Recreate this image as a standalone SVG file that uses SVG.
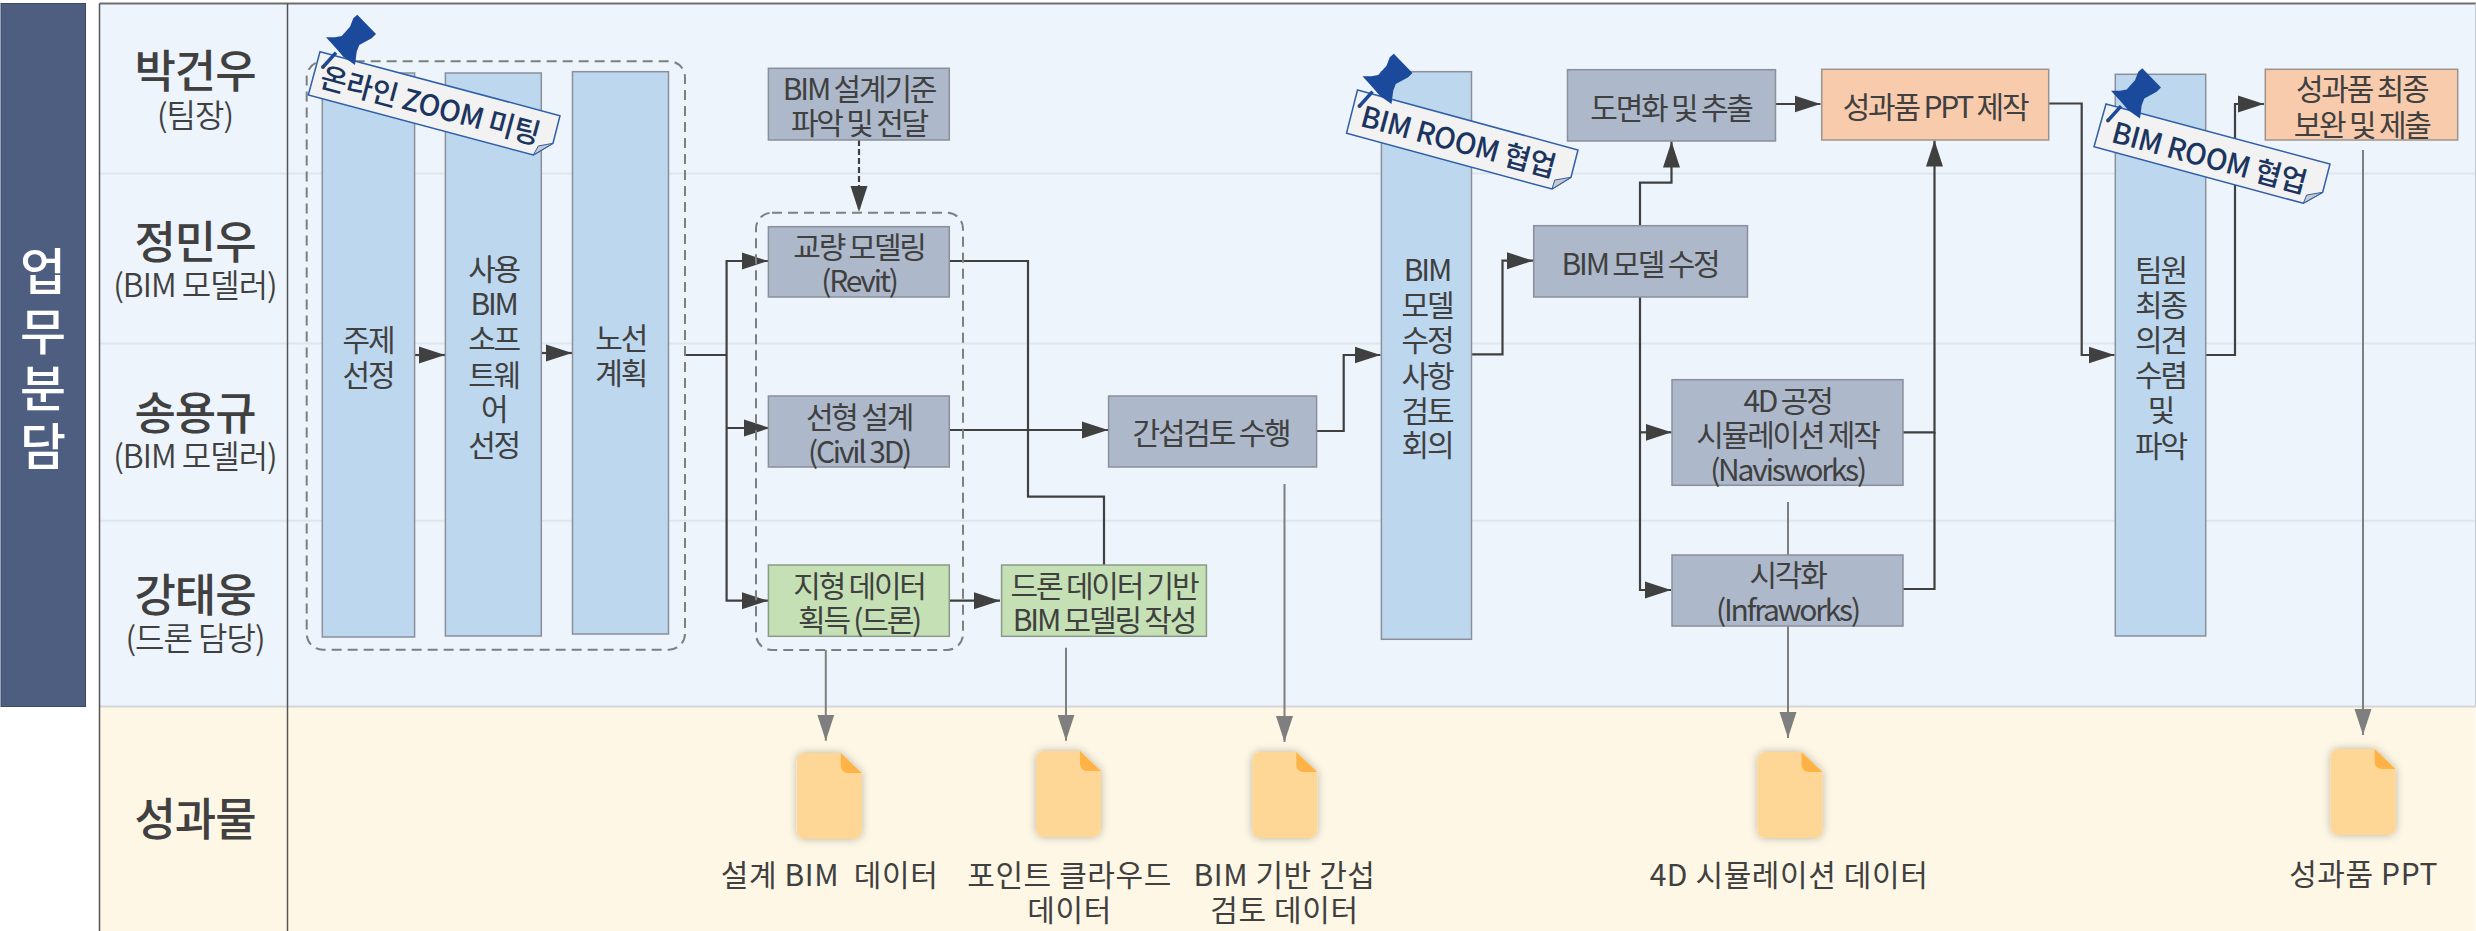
<svg xmlns="http://www.w3.org/2000/svg" xmlns:xlink="http://www.w3.org/1999/xlink" width="2476" height="931" viewBox="0 0 2476 931">
<style>
text{font-family:"Noto Sans CJK KR","Noto Sans",sans-serif;fill:#404040;text-anchor:middle;dominant-baseline:central}
.name{font-size:45px;font-weight:500;letter-spacing:-1px}
.sub{font-size:32px;letter-spacing:-1px;font-weight:350}
.t{font-size:30px;letter-spacing:-2.2px}
.out{font-size:30px;letter-spacing:.6px}
.title{font-size:50px;fill:#fff;font-weight:500}
.tag{font-size:29px;fill:#1b3560;font-weight:500;letter-spacing:-.5px}
.bar{fill:#bdd7ee;stroke:#8a8f99;stroke-width:1.5}
.gr{fill:#adb9ca;stroke:#8a8f99;stroke-width:1.5}
.gn{fill:#c5e0b4;stroke:#8a9a88;stroke-width:1.5}
.or{fill:#f8cbad;stroke:#9a948f;stroke-width:1.5}
.dash{fill:none;stroke:#7f7f7f;stroke-width:2;stroke-dasharray:10 6}
.c{fill:none;stroke:#404040;stroke-width:2.2;marker-end:url(#a)}
.n{fill:none;stroke:#404040;stroke-width:2.2}
.g{fill:none;stroke:#7f7f7f;stroke-width:2;marker-end:url(#b)}
.rib{fill:#f2f2f2;stroke:#2f5fa8;stroke-width:1.5}
.fold{fill:#c9c9c9;stroke:#2f5fa8;stroke-width:1}
</style>
<defs>
<marker id="a" markerUnits="userSpaceOnUse" markerWidth="26" markerHeight="18" refX="26" refY="9" orient="auto"><path d="M0 0.5L26 9L0 17.5z" fill="#404040"/></marker>
<marker id="b" markerUnits="userSpaceOnUse" markerWidth="26" markerHeight="18" refX="26" refY="9" orient="auto"><path d="M0 0.5L26 9L0 17.5z" fill="#7f7f7f"/></marker>
<filter id="s" x="-30%" y="-30%" width="160%" height="160%"><feDropShadow dx="0" dy="0" stdDeviation="4" flood-color="#000" flood-opacity=".28"/></filter>
<g id="pin">
<path d="M357.3 14.7L376 34L371.7 38.3L359.3 45L356.7 51.7L355 65L343.3 56.7L336 48.3L326 37.3L335 37.3L341.7 36L350 26.7L353.3 18.3z" fill="#1b4a9c"/>
<path d="M336 52.7L323.5 66.5" stroke="#1b4a9c" stroke-width="3.5" fill="none"/>
<circle cx="323" cy="67" r="2" fill="#33415c"/>
</g>
<g id="doc">
<path d="M8 0H44L65 20V78a8 8 0 0 1-8 8H8a8 8 0 0 1-8-8V8a8 8 0 0 1 8-8z" fill="#fed796" filter="url(#s)"/>
<path d="M44 0L65 20H51a7 7 0 0 1-7-7z" fill="#ffb347"/>
</g>
</defs>

<g id="background">
<rect x="99.5" y="3.5" width="2376" height="703" fill="#edf4fc"/>
<rect x="99.5" y="706" width="2376" height="225" fill="#fef7e5"/>
<path d="M99.5 173.5H2476M99.5 343.5H2476M99.5 520.7H2476" stroke="#dfe5ec" stroke-width="2" fill="none"/>
<path d="M99.5 706.5H2476" stroke="#d2d6d8" stroke-width="2" fill="none"/>
<path d="M99.5 3.5H2476" stroke="#6e6e6e" stroke-width="2" fill="none"/>
<path d="M2475.5 3.5V706" stroke="#c5ccd4" stroke-width="1" fill="none"/>
<path d="M99.5 3.5V931M287.5 3.5V931" stroke="#555" stroke-width="1.5" fill="none"/>
</g>

<g id="title">
<rect x="1" y="3.5" width="84.5" height="703" fill="#4d5e80" stroke="#3c4a66" stroke-width="1"/>
<text class="title"><tspan x="43" y="268">업</tspan><tspan x="43" y="328">무</tspan><tspan x="43" y="385">분</tspan><tspan x="43" y="443">담</tspan></text>
</g>

<g id="lane-labels">
<text class="name" x="195" y="68">박건우</text><text class="sub" x="195" y="113">(팀장)</text>
<text class="name" x="195" y="239">정민우</text><text class="sub" x="195" y="283">(BIM 모델러)</text>
<text class="name" x="195" y="410">송용규</text><text class="sub" x="195" y="454">(BIM 모델러)</text>
<text class="name" x="195" y="592">강태웅</text><text class="sub" x="195" y="636">(드론 담당)</text>
<text class="name" x="195" y="816">성과물</text>
</g>

<g id="connectors">
<path class="c" d="M414.6 355H445"/>
<path class="c" d="M541.3 353H572"/>
<path class="n" d="M685 355H726.6"/>
<path class="c" d="M726.6 355V261H768"/>
<path class="c" d="M726.6 355V600.7H768"/>
<path class="c" d="M726.6 428H770"/>
<path class="c" stroke-dasharray="6 3" d="M859 140V212"/>
<path class="n" d="M949.3 261H1028V496.7H1104V565"/>
<path class="c" d="M949.3 430H1108"/>
<path class="c" d="M949.3 600.7H1000"/>
<path class="c" d="M1316.6 431H1343.7V355H1380.5"/>
<path class="c" d="M1471.5 354.3H1502.5V260.7H1533"/>
<path class="c" d="M1640 225.7V182.7H1671.5V141.5"/>
<path class="c" d="M1640 297V590H1671"/>
<path class="c" d="M1640 432.3H1671.5"/>
<path class="c" d="M1775.5 104H1820.5"/>
<path class="c" d="M2048.7 103.5H2081.7V355H2114.5"/>
<path class="c" d="M1903 432.3H1934.5V140.5"/>
<path class="n" d="M1903 589H1934.5V432"/>
<path class="c" d="M2205.7 355H2235V104H2264"/>
<path class="g" d="M825.8 650V740.7"/>
<path class="g" d="M1066 647.7V740.7"/>
<path class="g" d="M1284.5 484V742"/>
<path class="g" d="M1788 502V738"/>
<path class="g" d="M2363 150V735"/>
</g>

<g id="group-1"><rect class="dash" x="306.7" y="61.3" width="378.3" height="588.4" rx="16"/></g>
<g id="group-2"><rect class="dash" x="756" y="212.7" width="207" height="437.3" rx="16"/></g>

<g id="n-topic"><rect class="bar" x="322.3" y="73" width="92.3" height="564"/><text class="t"><tspan x="368" y="338">주제</tspan><tspan x="368" y="373">선정</tspan></text></g>
<g id="n-software"><rect class="bar" x="445.4" y="73" width="95.9" height="563"/><text class="t"><tspan x="493.6" y="267">사용</tspan><tspan x="493.6" y="302">BIM</tspan><tspan x="493.6" y="337">소프</tspan><tspan x="493.6" y="373">트웨</tspan><tspan x="493.6" y="407">어</tspan><tspan x="493.6" y="443">선정</tspan></text></g>
<g id="n-route"><rect class="bar" x="572.5" y="71.7" width="96" height="562.3"/><text class="t"><tspan x="620.7" y="336">노선</tspan><tspan x="620.7" y="371">계획</tspan></text></g>
<g id="n-criteria"><rect class="gr" x="768.4" y="68.3" width="180.9" height="71.7"/><text class="t"><tspan x="859" y="87">BIM 설계기준</tspan><tspan x="859" y="121">파악 및 전달</tspan></text></g>
<g id="n-bridge"><rect class="gr" x="768.4" y="226.7" width="180.9" height="70.3"/><text class="t"><tspan x="859" y="245">교량 모델링</tspan><tspan x="859" y="279">(Revit)</tspan></text></g>
<g id="n-alignment"><rect class="gr" x="768.4" y="396" width="180.9" height="71"/><text class="t"><tspan x="859" y="415">선형 설계</tspan><tspan x="859" y="450">(Civil 3D)</tspan></text></g>
<g id="n-terrain"><rect class="gn" x="768.4" y="565" width="180.9" height="71.3"/><text class="t"><tspan x="859" y="584">지형 데이터</tspan><tspan x="859" y="618">획득 (드론)</tspan></text></g>
<g id="n-drone"><rect class="gn" x="1001.6" y="565" width="204.8" height="71.3"/><text class="t"><tspan x="1104" y="584">드론 데이터 기반</tspan><tspan x="1104" y="618">BIM 모델링 작성</tspan></text></g>
<g id="n-clash"><rect class="gr" x="1108.6" y="396" width="208" height="71"/><text class="t" x="1211" y="431">간섭검토 수행</text></g>
<g id="n-review"><rect class="bar" x="1381.4" y="71.7" width="90.1" height="567.6"/><text class="t"><tspan x="1427" y="268">BIM</tspan><tspan x="1427" y="303">모델</tspan><tspan x="1427" y="338">수정</tspan><tspan x="1427" y="374">사항</tspan><tspan x="1427" y="409">검토</tspan><tspan x="1427" y="443">회의</tspan></text></g>
<g id="n-fix"><rect class="gr" x="1533.7" y="225.7" width="213.8" height="71.3"/><text class="t" x="1640" y="261.7">BIM 모델 수정</text></g>
<g id="n-drawing"><rect class="gr" x="1567.5" y="69.7" width="208" height="71.3"/><text class="t" x="1671" y="105.7">도면화 및 추출</text></g>
<g id="n-ppt"><rect class="or" x="1821.7" y="69.3" width="227" height="70.7"/><text class="t" x="1935" y="105">성과품 PPT 제작</text></g>
<g id="n-final"><rect class="or" x="2265.3" y="69.3" width="192.4" height="70.7"/><text class="t"><tspan x="2361.7" y="87.3">성과품 최종</tspan><tspan x="2361.7" y="123">보완 및 제출</tspan></text></g>
<g id="n-4d"><rect class="gr" x="1672" y="379.7" width="231" height="105.6"/><text class="t"><tspan x="1787.5" y="399">4D 공정</tspan><tspan x="1787.5" y="433">시뮬레이션 제작</tspan><tspan x="1787.5" y="468">(Navisworks)</tspan></text></g>
<g id="n-vis"><rect class="gr" x="1672" y="555" width="231" height="71"/><text class="t"><tspan x="1787.5" y="572.7">시각화</tspan><tspan x="1787.5" y="608">(Infraworks)</tspan></text></g>
<g id="n-team"><rect class="bar" x="2115.3" y="74.3" width="90.4" height="561.7"/><text class="t"><tspan x="2160.5" y="267.7">팀원</tspan><tspan x="2160.5" y="302.7">최종</tspan><tspan x="2160.5" y="337.7">의견</tspan><tspan x="2160.5" y="373.3">수렴</tspan><tspan x="2160.5" y="408.3">및</tspan><tspan x="2160.5" y="444">파악</tspan></text></g>

<g id="callout-1">
<path class="rib" d="M320 51.7L560 115.7L553 143.3L533.3 155L308.3 95z"/>
<path class="fold" d="M533.3 155L553 143.3L538.3 146z"/>
<text class="tag" transform="translate(431 103) rotate(15)">온라인 ZOOM 미팅</text>
<use xlink:href="#pin" href="#pin"/>
</g>
<g id="callout-2">
<path class="rib" d="M1357.5 90L1578 150L1571 177.3L1552 189L1346.5 133.3z"/>
<path class="fold" d="M1552 189L1571 177.3L1554.7 180z"/>
<text class="tag" transform="translate(1459 139) rotate(15)">BIM ROOM 협업</text>
<use xlink:href="#pin" href="#pin" transform="translate(1036.5 39)"/>
</g>
<g id="callout-3">
<path class="rib" d="M2106 104L2330 164L2322.7 192.3L2303.3 203.3L2094 146.7z"/>
<path class="fold" d="M2303.3 203.3L2322.7 192.3L2306.7 195z"/>
<text class="tag" transform="translate(2210 155) rotate(15)">BIM ROOM 협업</text>
<use xlink:href="#pin" href="#pin" transform="translate(1785 53.5)"/>
</g>

<g id="out-1"><use xlink:href="#doc" href="#doc" transform="translate(796.8 753)"/><text class="out" x="829.6" y="873" xml:space="preserve">설계 BIM  데이터</text></g>
<g id="out-2"><use xlink:href="#doc" href="#doc" transform="translate(1036 751)"/><text class="out"><tspan x="1069.6" y="873">포인트 클라우드</tspan><tspan x="1069.6" y="908">데이터</tspan></text></g>
<g id="out-3"><use xlink:href="#doc" href="#doc" transform="translate(1252.3 752)"/><text class="out"><tspan x="1284.5" y="873">BIM 기반 간섭</tspan><tspan x="1284.5" y="908">검토 데이터</tspan></text></g>
<g id="out-4"><use xlink:href="#doc" href="#doc" transform="translate(1757.5 752)"/><text class="out" x="1789" y="873">4D 시뮬레이션 데이터</text></g>
<g id="out-5"><use xlink:href="#doc" href="#doc" transform="translate(2330.7 749)"/><text class="out" x="2363.6" y="872">성과품 PPT</text></g>
</svg>
